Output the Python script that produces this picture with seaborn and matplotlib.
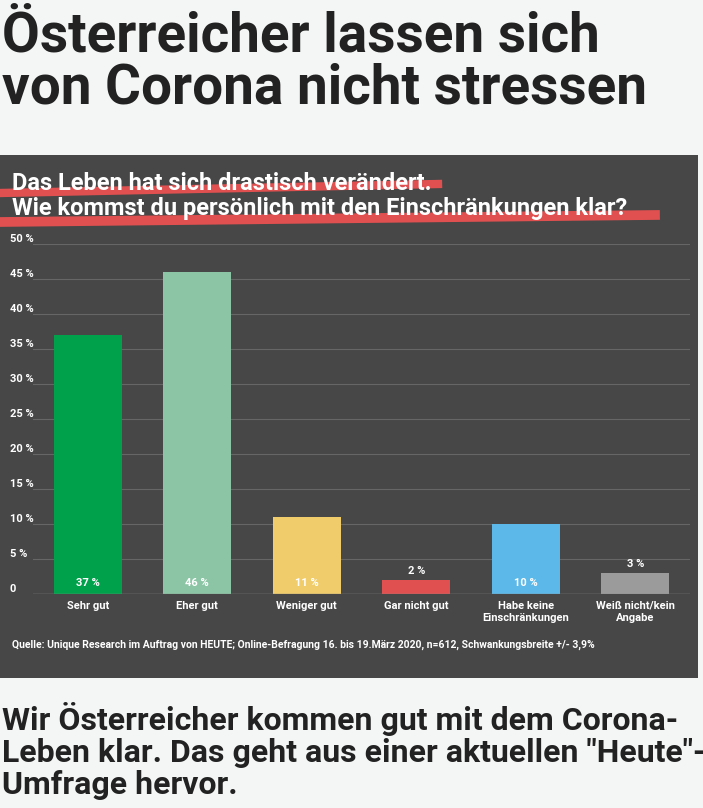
import matplotlib
matplotlib.use("Agg")
import matplotlib.pyplot as plt
import seaborn as sns
import pandas as pd

categories = ["Sehr gut", "Eher gut", "Weniger gut", "Gar nicht gut", "Habe keine\nEinschränkungen", "Weiß nicht/kein\nAngabe"]
values = [37, 46, 11, 2, 10, 3]
colors = ["#00a14b", "#8cc5a5", "#f0cc6b", "#e05050", "#5cb8e8", "#9b9b9b"]
yticks = [0, 5, 10, 15, 20, 25, 30, 35, 40, 45, 50]

W, H = 703, 808
fig = plt.figure(figsize=(W/100, H/100), dpi=100)
fig.patch.set_facecolor("#f4f6f5")
font = "Roboto"

# title
fig.text(2/W, 1-10/H, "Österreicher lassen sich\nvon Corona nicht stressen", fontsize=39.5, fontweight="bold",
         family=font, color="#222222", va="top", ha="left", linespacing=1.02)

# dark panel
panel = fig.add_axes([0, 1-678/H, 698/W, (678-155)/H])
panel.set_facecolor("#474747"); panel.set_xticks([]); panel.set_yticks([])
for s in panel.spines.values(): s.set_visible(False)

# red strokes
fig.add_artist(plt.Line2D([0, 438/W], [1-193/H, 1-184/H], color="#e05050", lw=6))
fig.add_artist(plt.Line2D([0, 655/W], [1-222/H, 1-215/H], color="#e05050", lw=7))
fig.text(12/W, 1-183/H, "Das Leben hat sich drastisch verändert.", fontsize=17, fontweight="bold",
         family=font, color="white", va="center")
fig.text(12/W, 1-209/H, "Wie kommst du persönlich mit den Einschränkungen klar?", fontsize=17, fontweight="bold",
         family=font, color="white", va="center")

ax = fig.add_axes([33/W, 1-594/H, (690-33)/W, (594-244)/H])
df = pd.DataFrame({"cat": categories, "val": values})
sns.barplot(data=df, x="cat", y="val", hue="cat", palette=colors, legend=False, ax=ax, width=0.62,
            saturation=1, zorder=3)
ax.set_facecolor("none")
ax.set_ylim(0, 50)
ax.set_yticks(yticks)
ax.set_yticklabels([("0" if t == 0 else f"{t} %") for t in yticks], color="white", fontsize=8,
                   fontweight="bold", family=font)
ax.yaxis.set_tick_params(length=0, pad=0)
for lab in ax.get_yticklabels():
    lab.set_horizontalalignment("left"); lab.set_x(-23/657)
    lab.set_verticalalignment("bottom")
ax.grid(axis="y", color="#666666", lw=0.8, zorder=0)
ax.set_xticks(range(len(categories)))
ax.set_xticklabels(categories, color="white", fontsize=8, fontweight="bold", family=font, linespacing=1.3)
ax.xaxis.set_tick_params(length=0, pad=5)
ax.set_xlabel(""); ax.set_ylabel("")
for s in ax.spines.values(): s.set_visible(False)
ax.axhline(0, color="#888888", lw=1, zorder=4)
for i, v in enumerate(values):
    if v >= 5:
        ax.text(i, 0.8, f"{v} %", ha="center", va="bottom", color="white", fontsize=8, fontweight="bold", family=font, zorder=5)
    else:
        ax.text(i, v + 0.6, f"{v} %", ha="center", va="bottom", color="white", fontsize=8, fontweight="bold", family=font, zorder=5)

fig.text(12/W, 1-645/H, "Quelle: Unique Research im Auftrag von HEUTE; Online-Befragung 16. bis 19.März 2020, n=612, Schwankungsbreite +/- 3,9%",
         fontsize=7.5, fontweight="bold", family=font, color="white", va="center")

fig.text(2/W, 1-702/H, "Wir Österreicher kommen gut mit dem Corona-\nLeben klar. Das geht aus einer aktuellen \"Heute\"-\nUmfrage hervor.",
         fontsize=23, fontweight="bold", family=font, color="#222222", va="top", linespacing=1.08)

fig.savefig("out.png", dpi=100)
